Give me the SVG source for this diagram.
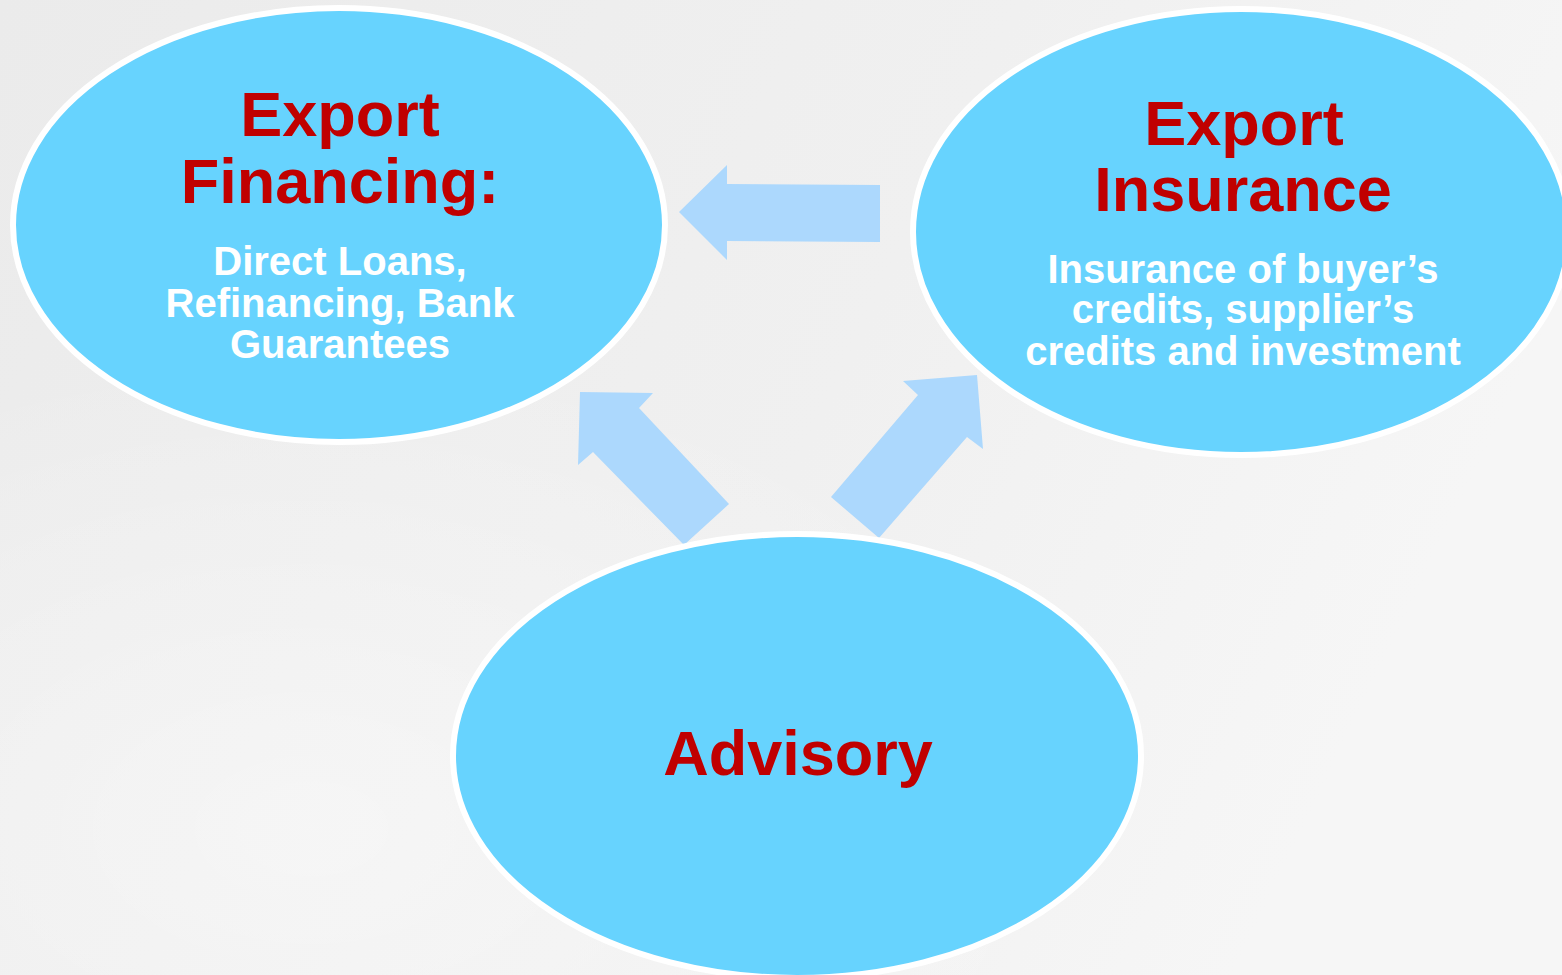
<svg xmlns="http://www.w3.org/2000/svg" width="1562" height="975" viewBox="0 0 1562 975">
  <defs>
    <linearGradient id="bg" x1="0" y1="0" x2="1" y2="0.3">
      <stop offset="0" stop-color="#ebebeb"/>
      <stop offset="0.6" stop-color="#f0f0f0"/>
      <stop offset="1" stop-color="#f6f6f6"/>
    </linearGradient>
    <radialGradient id="glow" cx="0.2" cy="0.85" r="0.5">
      <stop offset="0" stop-color="#ffffff" stop-opacity="0.45"/>
      <stop offset="1" stop-color="#ffffff" stop-opacity="0"/>
    </radialGradient>
    <style>
      .node { fill: #67d3fe; stroke: #ffffff; stroke-width: 6; }
      .title { font-family: "Liberation Sans", Arial, sans-serif; font-weight: bold; font-size: 63px; fill: #c00000; text-anchor: middle; }
      .sub { font-family: "Liberation Sans", Arial, sans-serif; font-weight: bold; font-size: 40px; fill: #ffffff; text-anchor: middle; }
      .arrow { fill: #acd8fd; }
    </style>
  </defs>
  <rect width="1562" height="975" fill="url(#bg)"/>
  <rect width="1562" height="975" fill="url(#glow)"/>

  <g id="connectors">
    <polygon class="arrow" points="679,212 727,165 727,184 880,185 880,242 727,241 727,260"/>
    <polygon class="arrow" points="580,392 653,393 639,408 729,504 684,545 593,452 578,465"/>
    <polygon class="arrow" points="977,375 983,449 967,437 879,538 831,497 918,395 903,381"/>
  </g>

  <g id="node-financing">
    <ellipse class="node" cx="339" cy="225" rx="326" ry="217"/>
    <text class="title" x="340" y="136">Export</text>
    <text class="title" x="340" y="203">Financing:</text>
    <text class="sub" x="340" y="275">Direct Loans,</text>
    <text class="sub" x="340" y="317">Refinancing, Bank</text>
    <text class="sub" x="340" y="358">Guarantees</text>
  </g>

  <g id="node-insurance">
    <ellipse class="node" cx="1241" cy="232" rx="328" ry="223"/>
    <text class="title" x="1244" y="145">Export</text>
    <text class="title" x="1243" y="211">Insurance</text>
    <text class="sub" x="1243" y="283">Insurance of buyer’s</text>
    <text class="sub" x="1243" y="323">credits, supplier’s</text>
    <text class="sub" x="1243" y="365">credits and investment</text>
  </g>

  <g id="node-advisory">
    <ellipse class="node" cx="797" cy="756" rx="344" ry="222"/>
    <text class="title" x="798" y="775">Advisory</text>
  </g>
</svg>
